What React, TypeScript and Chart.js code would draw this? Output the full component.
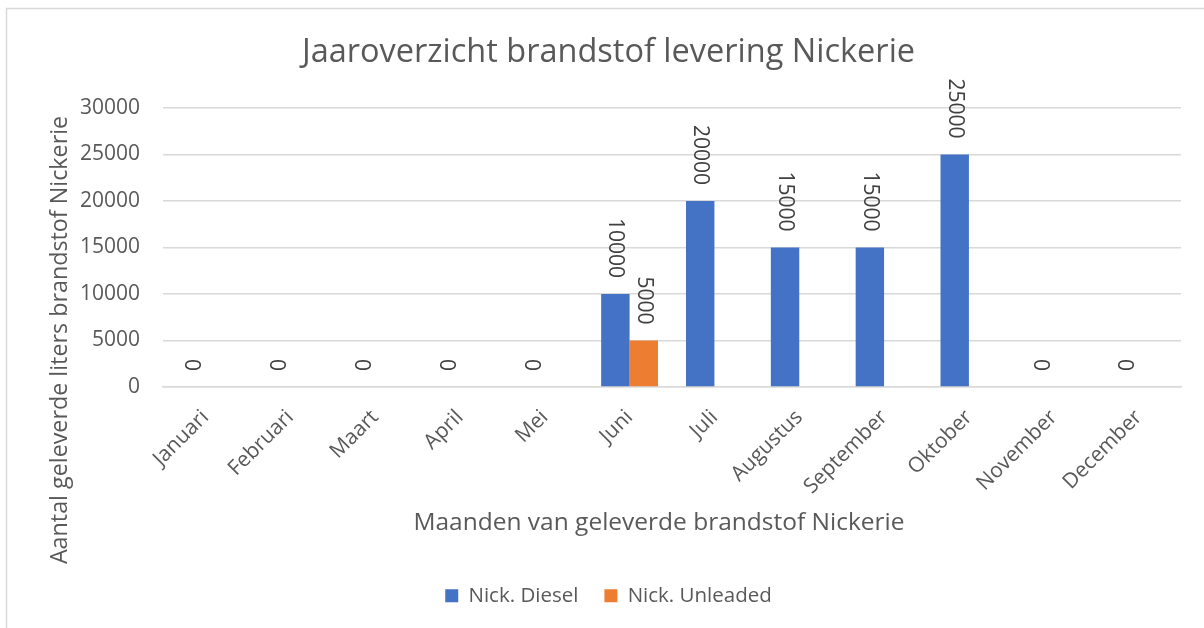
import React, { useEffect, useRef } from "react";
import { Chart, registerables } from "chart.js";

Chart.register(...registerables);

const months = [
  "Januari", "Februari", "Maart", "April", "Mei", "Juni",
  "Juli", "Augustus", "September", "Oktober", "November", "December",
];
const dieselValues: (number | null)[] = [0, 0, 0, 0, 0, 10000, 20000, 15000, 15000, 25000, 0, 0];
const unleadedValues: (number | null)[] = [null, null, null, null, null, 5000, null, null, null, null, null, null];
const yTicks = [0, 5000, 10000, 15000, 20000, 25000, 30000];
const yTitle = "Aantal geleverde liters brandstof Nickerie";
const xTitle = "Maanden van geleverde brandstof Nickerie";
const chartTitle = "Jaaroverzicht brandstof levering Nickerie";

const FONT = '"Open Sans", "Noto Sans", sans-serif';
const TEXT = "#595959";
const GRID = "#d9d9d9";

const frame = {
  id: "frame",
  beforeDraw(chart: any) {
    const { ctx, width, height } = chart;
    ctx.save();
    ctx.fillStyle = "#ffffff";
    ctx.fillRect(0, 0, width, height);
    ctx.strokeStyle = GRID;
    ctx.lineWidth = 1.5;
    ctx.strokeRect(6.5, 8.5, width + 50, height + 50);
    ctx.restore();
  },
};

const axisTitles = {
  id: "axisTitles",
  afterDraw(chart: any) {
    const ctx = chart.ctx;
    ctx.save();
    ctx.fillStyle = TEXT;
    ctx.textAlign = "center";
    ctx.textBaseline = "middle";
    ctx.font = `24.5px ${FONT}`;
    ctx.fillText(xTitle, 659, 523);
    ctx.font = `23.3px ${FONT}`;
    ctx.translate(60, 340);
    ctx.rotate(-Math.PI / 2);
    ctx.fillText(yTitle, 0, 0);
    ctx.restore();
  },
};

const dataLabels = {
  id: "dataLabels",
  afterDatasetsDraw(chart: any) {
    const ctx = chart.ctx;
    ctx.save();
    ctx.font = `21px ${FONT}`;
    ctx.fillStyle = "#404040";
    chart.data.datasets.forEach((ds: any, i: number) => {
      const meta = chart.getDatasetMeta(i);
      meta.data.forEach((bar: any, j: number) => {
        const v = ds.data[j];
        if (v === null || v === undefined) return;
        ctx.save();
        ctx.translate(bar.x, bar.y - 16);
        ctx.rotate(Math.PI / 2);
        ctx.textAlign = "right";
        ctx.textBaseline = "middle";
        ctx.fillText(String(v), 0, 0);
        ctx.restore();
      });
    });
    ctx.restore();
  },
};

export default function App() {
  const ref = useRef<HTMLCanvasElement | null>(null);
  useEffect(() => {
    if (!ref.current) return;
    const chart = new Chart(ref.current, {
      type: "bar",
      data: {
        labels: months,
        datasets: [
          {
            label: "Nick. Diesel",
            data: dieselValues,
            backgroundColor: "#4472C4",
            categoryPercentage: 0.67,
            barPercentage: 1.0,
          },
          {
            label: "Nick. Unleaded",
            data: unleadedValues,
            backgroundColor: "#ED7D31",
            categoryPercentage: 0.67,
            barPercentage: 1.0,
          },
        ],
      },
      options: {
        responsive: false,
        animation: false,
        layout: { padding: { left: 36, right: 23, top: 0, bottom: 12 } },
        plugins: {
          title: {
            display: true,
            text: chartTitle,
            color: TEXT,
            font: { family: FONT, size: 32.5, weight: "normal" },
            padding: { top: 33.5, bottom: 35.5 },
          },
          legend: {
            position: "bottom",
            labels: {
              color: TEXT,
              font: { family: FONT, size: 20.5 },
              boxWidth: 13,
              boxHeight: 13,
              padding: 26,
            },
          },
          tooltip: { enabled: false },
        },
        scales: {
          x: {
            grid: { display: false },
            border: { color: GRID, width: 1.5 },
            ticks: {
              color: TEXT,
              font: { family: FONT, size: 21 },
              minRotation: 45,
              maxRotation: 45,
              padding: 10,
            },
            afterFit: (scale: any) => {
              scale.height = 172.5;
            },
          },
          y: {
            min: 0,
            max: 30000,
            afterBuildTicks: (scale: any) => {
              scale.ticks = yTicks.map((v) => ({ value: v }));
            },
            grid: { color: GRID, drawTicks: false, lineWidth: 1.5 },
            border: { display: false },
            ticks: {
              color: TEXT,
              font: { family: FONT, size: 21 },
              padding: 23,
              callback: (v: any) => String(v),
            },
            afterFit: (scale: any) => {
              scale.width = 127;
            },
          },
        },
      },
      plugins: [frame, dataLabels, axisTitles],
    });
    return () => chart.destroy();
  }, []);
  return (
    <div style={{ position: "fixed", left: 0, top: 0, width: 1204, height: 628 }}>
      <canvas ref={ref} width={1204} height={628} />
    </div>
  );
}
